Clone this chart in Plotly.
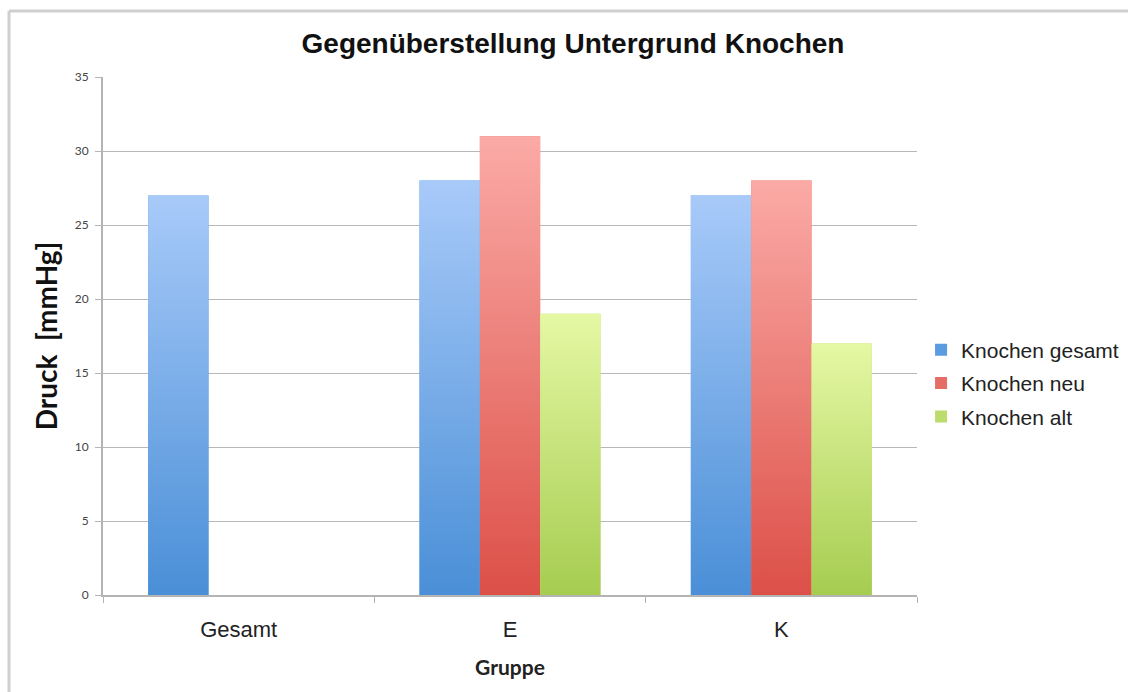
import plotly.graph_objects as go

# Data
categories = ["Gesamt", "E", "K"]
series_names = ["Knochen gesamt", "Knochen neu", "Knochen alt"]
knochen_gesamt = [27, 28, 27]
knochen_neu = [None, 31, 28]
knochen_alt = [None, 19, 17]

# Styling: (bottom colour, top colour) of each series' vertical gradient
grad_colors = [
    ("#4a8fd7", "#a8caf9"),
    ("#dc5048", "#fbaaa6"),
    ("#a6cc50", "#e5f8a4"),
]
solid_colors = ["#5b9be0", "#e46e66", "#bcdc6e"]

BARGAP = 0.333
n_series = 3
bar_w = (1 - BARGAP) / n_series

fig = go.Figure()

all_values = [knochen_gesamt, knochen_neu, knochen_alt]

# Grouped bars on the category axis (also provide the legend entries)
for name, vals, col in zip(series_names, all_values, solid_colors):
    fig.add_trace(go.Bar(
        x=categories, y=vals, name=name, legendgroup=name,
        marker=dict(color=col, line=dict(width=0)),
        xaxis="x", yaxis="y",
    ))

# Gradient fill on top of each bar, placed with the same grouping geometry
for si, (name, vals, (c_bot, c_top)) in enumerate(zip(series_names, all_values, grad_colors)):
    for ci, v in enumerate(vals):
        if v is None:
            continue
        center = ci + (si - (n_series - 1) / 2) * bar_w
        x0, x1 = center - bar_w / 2, center + bar_w / 2
        fig.add_trace(go.Scatter(
            x=[x0, x1, x1, x0, x0], y=[0, 0, v, v, 0],
            mode="lines", line=dict(width=0),
            fill="toself",
            fillgradient=dict(type="vertical",
                              colorscale=[[0, c_bot], [1, c_top]],
                              start=0, stop=v),
            legendgroup=name, showlegend=False, hoverinfo="skip",
            xaxis="x2", yaxis="y",
        ))

axis_grey = "#b4b4b4"
arial = "Liberation Sans, Arial, sans-serif"
calib = "Lato, sans-serif"

fig.update_layout(
    width=1128, height=692,
    paper_bgcolor="white", plot_bgcolor="white",
    margin=dict(l=103, r=211, t=77, b=97, autoexpand=False),
    barmode="group", bargap=BARGAP, bargroupgap=0,
    title=dict(
        text="<b>Gegenüberstellung Untergrund Knochen</b>",
        font=dict(family=arial, size=28, color="#111"),
        x=573 / 1128, xref="container", xanchor="center",
        y=1 - 43 / 692, yref="container", yanchor="middle",
    ),
    xaxis=dict(
        type="category", range=[-0.5, 2.5],
        showline=True, linecolor=axis_grey, linewidth=2,
        ticks="outside", tickson="boundaries", ticklen=6, tickcolor=axis_grey,
        showgrid=False,
        tickfont=dict(family=arial, size=22, color="#222"),
        ticklabelstandoff=14,
        title=dict(text="<b>Gruppe</b>",
                   font=dict(family=calib, size=21, color="#222"),
                   standoff=19),
    ),
    xaxis2=dict(
        overlaying="x", range=[-0.5, 2.5], visible=False,
    ),
    yaxis=dict(
        range=[0, 35], dtick=5,
        showline=True, linecolor=axis_grey, linewidth=2,
        ticks="outside", ticklen=6, tickcolor=axis_grey,
        showgrid=True, gridcolor="#b8b8b8", gridwidth=1,
        zeroline=False,
        tickfont=dict(family=calib, size=12, color="#444"),
        ticklabelstandoff=4,
        title=dict(text="<b>Druck  [mmHg]</b>",
                   font=dict(family=calib, size=28, color="#111"),
                   standoff=9),
    ),
    legend=dict(
        x=1.005, xanchor="left", y=0.409, yanchor="middle",
        font=dict(family=arial, size=21, color="#222"),
        itemwidth=30, tracegroupgap=3,
        bgcolor="rgba(0,0,0,0)",
    ),
    shapes=[
        dict(type="line", xref="paper", yref="paper",
             x0=(9 - 103) / 814, x1=(9 - 103) / 814,
             y0=(595 - 700) / 518, y1=(595 - 11) / 518,
             line=dict(color="#cfcfcf", width=3)),
        dict(type="line", xref="paper", yref="paper",
             x0=(9 - 103) / 814, x1=(1140 - 103) / 814,
             y0=(595 - 11) / 518, y1=(595 - 11) / 518,
             line=dict(color="#cfcfcf", width=3)),
    ],
)

fig.write_html("out.html")
